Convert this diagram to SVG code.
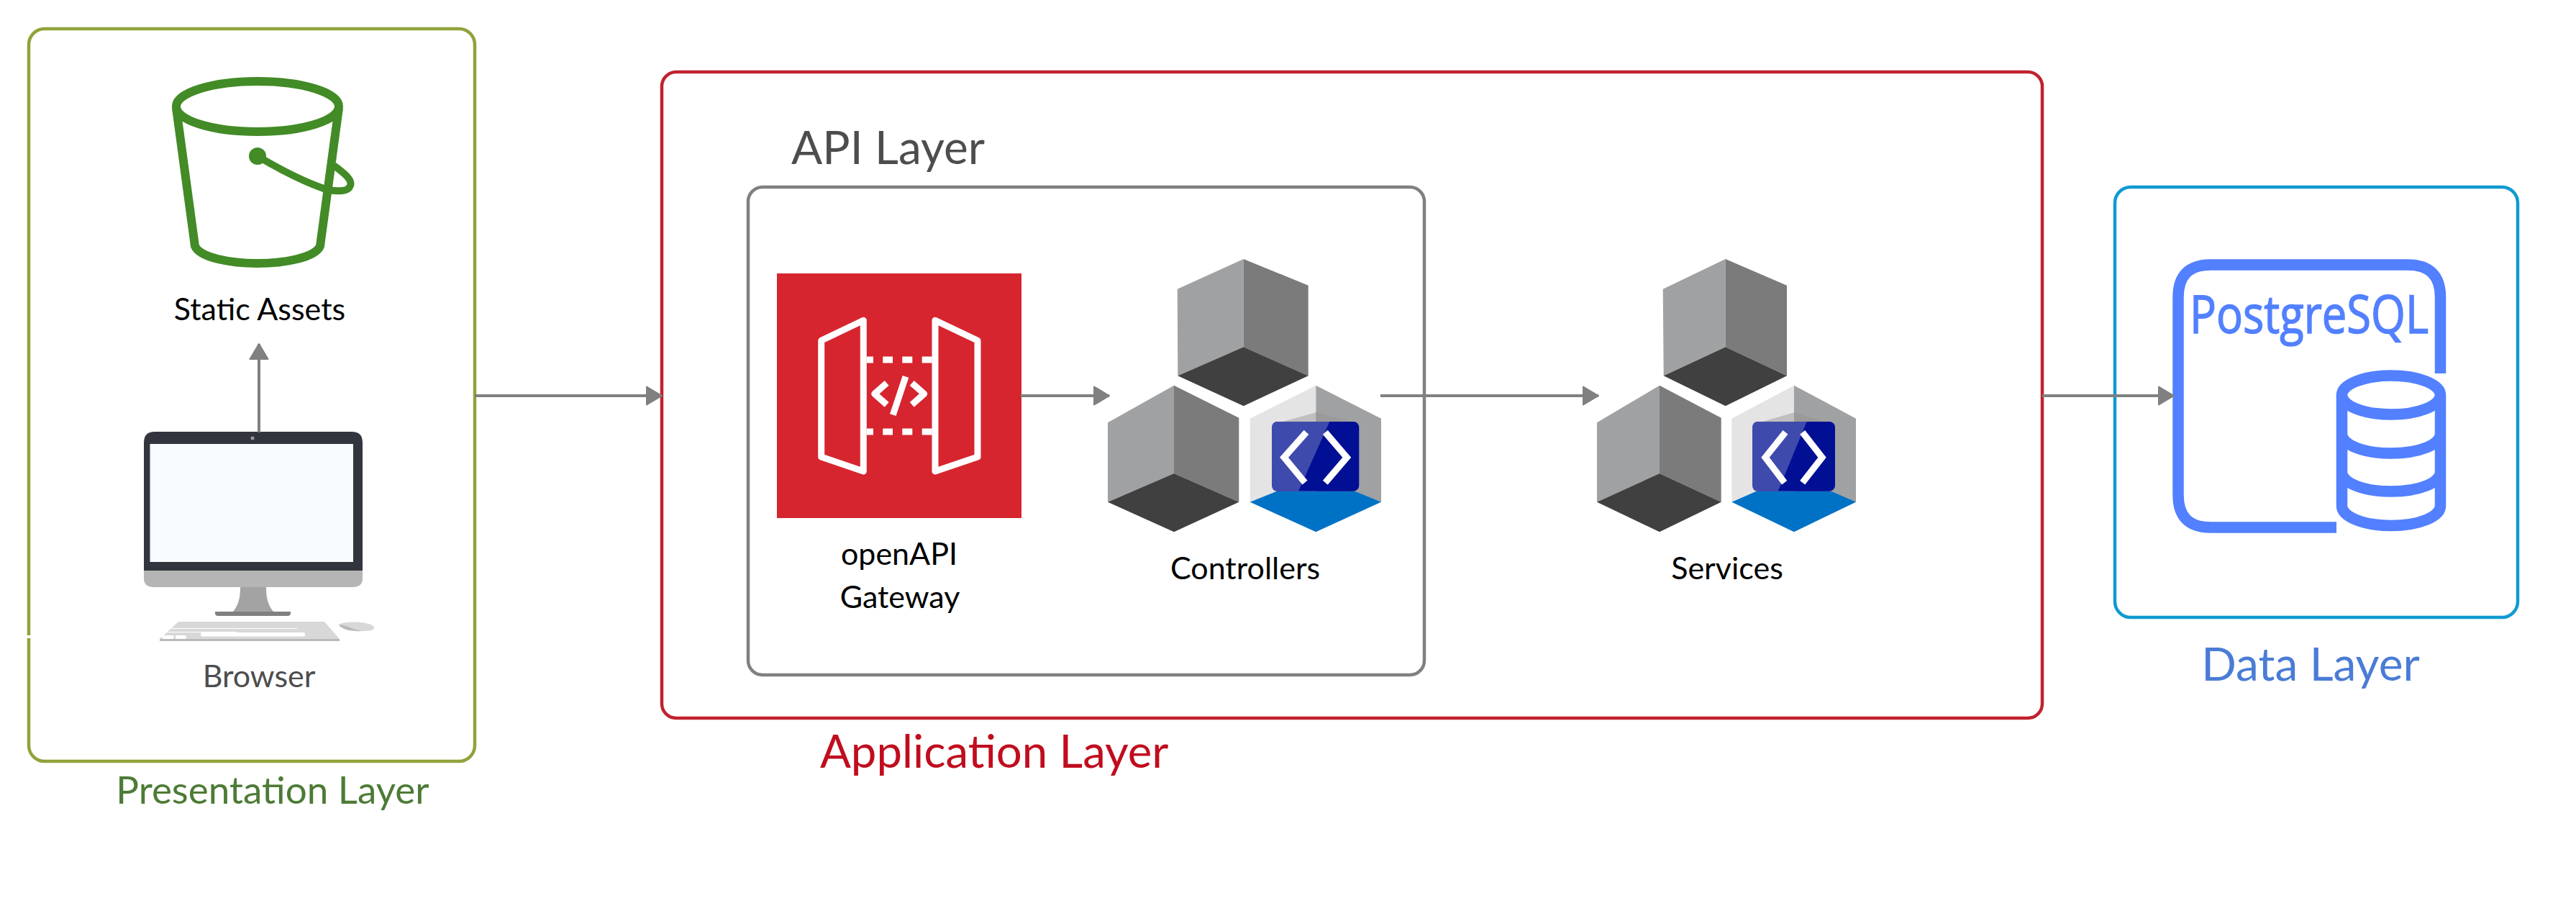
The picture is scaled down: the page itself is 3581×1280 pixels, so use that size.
<svg xmlns="http://www.w3.org/2000/svg" width="3581" height="1280" viewBox="0 0 3581 1280">
<style>
text{font-family:Lato,"Liberation Sans",sans-serif}
.lbl{font-size:43px;text-anchor:middle;fill:#000}
.big{font-size:64px}
.box{fill:none;stroke-width:4.5}
.wl{fill:none;stroke:#fff;stroke-width:9}
.con{stroke:#808080;stroke-width:4;fill:none}
.pg{fill:none;stroke:#5280ff;stroke-width:15.5}
.bk{fill:none;stroke:#428b27}
.cl{fill:#a0a1a3}.cr{fill:#7b7b7b}.cb{fill:#404040}
</style>
<defs>
<marker id="arr" markerUnits="userSpaceOnUse" markerWidth="24" markerHeight="30" refX="22" refY="14" orient="auto"><path d="M1 1.5 L22 14 L1 26.5Z" fill="#808080" stroke="#808080" stroke-width="2" stroke-linejoin="round"/></marker>
</defs>
<rect width="3581" height="1280" fill="#fff"/>
<g id="presentation-layer">
<rect class="box" x="40" y="40" width="620" height="1018" rx="22" stroke="#8fa33a"/>
<rect x="36" y="883" width="8" height="4" fill="#fff"/>
<text x="379" y="1117" text-anchor="middle" font-size="53" fill="#4d7b36">Presentation Layer</text>
</g>
<g id="static-assets">
<ellipse class="bk" stroke-width="12" cx="358" cy="148" rx="113" ry="35"/>
<path class="bk" stroke-width="12" stroke-linejoin="round" d="M245 150 L271 342 C278 358 320 366 358 366 C396 366 438 358 445 342 L471 150"/>
<ellipse cx="358" cy="217" rx="12" ry="12" fill="#428b27"/>
<path class="bk" stroke-width="10" d="M358 217 C390 236 425 254 456 264 C470 266 484 267 487 258 C490 250 478 240 464 230"/>
<text x="361" y="445" class="lbl">Static Assets</text>
</g>
<g id="browser">
<path d="M200 793 V615 Q200 600 215 600 H489 Q504 600 504 615 V793Z" fill="#32353e"/>
<path d="M200 793 H504 V804 Q504 816 490 816 H214 Q200 816 200 804Z" fill="#b5b5b5"/>
<rect x="208.500" y="617" width="282.500" height="164" fill="#f7fcff"/>
<circle cx="351" cy="609" r="2.500" fill="#9a9a9a"/>
<path d="M334 816 H370 C370 830 372 840 380 850 H324 C332 840 334 830 334 816Z" fill="#a3a3a3"/>
<path d="M299 850 H404 V852 Q404 856 400 856 H303 Q299 856 299 852Z" fill="#808080"/>
<path d="M248 864 H451 L472 888 V891 H222 V888Z" fill="#d8d8d8"/>
<rect x="222" y="888" width="250" height="3" fill="#b9b9b9"/>
<path d="M238 873 H413 V874 H235Z M231 878 H329 V879 H230Z" fill="#fff"/>
<rect x="279" y="879" width="145" height="5.500" rx="2" fill="#fff"/>
<rect x="225.500" y="883" width="16" height="5" rx="2" fill="#fff"/>
<rect x="244" y="883" width="15" height="5" rx="2" fill="#fff"/>
<path d="M471 868 C480 862 515 864 520 871 C521 876 515 877 503 877 C490 877 484 871 471 868Z" fill="#d8d8d8"/>
<path d="M471 868 C480 868 490 875 503 877 C490 878 474 875 471 868Z" fill="#b9b9b9"/>
<text x="360" y="955" class="lbl" style="fill:#4d4d4d">Browser</text>
</g>
<g id="application-layer">
<rect class="box" x="920" y="100" width="1919" height="898" rx="20" stroke="#c1222e"/>
<text x="1140" y="1067" font-size="63.500" fill="#c00d1e">Application Layer</text>
</g>
<g id="api-layer">
<rect class="box" x="1040" y="260" width="940" height="678" rx="20" stroke="#808080"/>
<text x="1100" y="228" class="big" fill="#4d4d4d">API Layer</text>
</g>
<g id="openapi-gateway">
<rect x="1080" y="380" width="340" height="340" fill="#d6252e"/>
<path class="wl" stroke-linejoin="round" d="M1141.700 473.300 L1200.300 445.300 V655 L1141.700 635Z M1300 445.300 L1359 473.300 V635 L1300 655Z"/>
<path class="wl" d="M1205 500 H1214 M1227.300 500 H1241 M1254.300 500 H1268.300 M1281.700 500 H1295.700 M1205 600 H1214 M1227.300 600 H1241 M1254.300 600 H1268.300 M1281.700 600 H1295.700"/>
<path class="wl" stroke-linejoin="round" d="M1232.700 532.300 L1215.700 547.300 L1232.700 562.300 M1267.700 532.300 L1284.700 547.300 L1267.700 562.300 M1259 523.300 L1241.300 576.700"/>
<text x="1250" y="785" class="lbl">openAPI</text>
<text x="1251" y="845" class="lbl">Gateway</text>
</g>
<g id="controllers">
<path class="cl" d="M1728.700 360 L1636.700 401.700 L1637.300 522.300 L1728.700 482.300Z"/>
<path class="cr" d="M1728.700 360 L1818.700 396.700 V522.300 L1728.700 482.300Z"/>
<path class="cb" d="M1728.700 482.300 L1818.700 522.300 L1728.700 564.300 L1637.300 522.300Z"/>
<path class="cl" d="M1632 535.700 L1540 587.300 V697.700 L1632 658Z"/>
<path class="cr" d="M1632 535.700 L1722.300 580.700 V697.700 L1632 658Z"/>
<path class="cb" d="M1632 658 L1722.300 697.700 L1632 739.300 L1540 697.700Z"/>
<path d="M1829.300 535.700 L1737.700 581.700 V697.700 H1829.300Z" fill="#e4e4e4"/>
<path class="cl" d="M1829.300 535.700 L1920 581.700 V697.700 H1829.300Z"/>
<path d="M1829.300 573.300 L1783 586 H1829.300Z" fill="#bfbfbf"/>
<path d="M1829.300 573.300 L1876.700 586 H1829.300Z" fill="#9a9a9a"/>
<path d="M1775 682.700 H1883.300 L1920 697.700 L1829.300 739.300 L1737.700 697.700Z" fill="#0072c6"/>
<rect x="1768.300" y="586" width="121" height="96.700" rx="8" fill="#000f94"/>
<path d="M1848.300 586 H1776 Q1768.300 586 1768.300 594 V675 Q1768.300 682.700 1776 682.700 H1805Z" fill="#3f4aad"/>
<path d="M1816 600.700 L1785 635.700 L1814 670.700 M1842.300 600.700 L1872.300 635.700 L1842.300 670.700" fill="none" stroke="#fff" stroke-width="9"/>
<text x="1731" y="805" class="lbl">Controllers</text>
</g>
<g id="services">
<path class="cl" d="M2398.700 360 L2311.700 401.700 L2312.700 522.300 L2398.700 482.300Z"/>
<path class="cr" d="M2398.700 360 L2484 396.700 V522.300 L2398.700 482.300Z"/>
<path class="cb" d="M2398.700 482.300 L2484 522.300 L2398.700 564.300 L2312.700 522.300Z"/>
<path class="cl" d="M2307 535.700 L2220 587.300 V697.700 L2307 658Z"/>
<path class="cr" d="M2307 535.700 L2392.700 580.700 V697.700 L2307 658Z"/>
<path class="cb" d="M2307 658 L2392.700 697.700 L2307 739.300 L2220 697.700Z"/>
<path d="M2494 535.700 L2407.300 581.700 V697.700 H2494Z" fill="#e4e4e4"/>
<path class="cl" d="M2494 535.700 L2580 581.700 V697.700 H2494Z"/>
<path d="M2494 573.300 L2450 586 H2494Z" fill="#bfbfbf"/>
<path d="M2494 573.300 L2535 586 H2494Z" fill="#9a9a9a"/>
<path d="M2441.700 682.700 H2545.700 L2580 697.700 L2494 739.300 L2407.300 697.700Z" fill="#0072c6"/>
<rect x="2436.300" y="586" width="114.700" height="96.700" rx="8" fill="#000f94"/>
<path d="M2511.700 586 H2444 Q2436.300 586 2436.300 594 V675 Q2436.300 682.700 2444 682.700 H2471.700Z" fill="#3f4aad"/>
<path d="M2482 600.700 L2454 635.700 L2480.700 670.700 M2505.700 600.700 L2533 635.700 L2505.700 670.700" fill="none" stroke="#fff" stroke-width="9"/>
<text x="2401" y="805" class="lbl">Services</text>
</g>
<g id="data-layer">
<rect class="box" x="2940" y="260" width="560" height="598" rx="22" stroke="#0f9ad1"/>
<text x="3212" y="946" class="big" text-anchor="middle" fill="#4a7cd6">Data Layer</text>
</g>
<g id="postgresql">
<path class="pg" d="M3392.500 519 V413 Q3392.500 368 3347 368 H3073 Q3028 368 3028 413 V688 Q3028 733 3073 733 H3248"/>
<text x="3044" y="462.500" font-size="74" textLength="332" lengthAdjust="spacingAndGlyphs" fill="#5280ff" stroke="#5280ff" stroke-width="1.500" style="font-family:'Open Sans','Noto Sans',sans-serif">PostgreSQL</text>
<ellipse class="pg" cx="3324" cy="549" rx="68.500" ry="27"/>
<path class="pg" d="M3255.500 549 V703 C3255.500 718 3285 730.500 3324 730.500 C3363 730.500 3392.500 718 3392.500 703 V549 M3255.500 603 C3255.500 618 3285 630 3324 630 C3363 630 3392.500 618 3392.500 603 M3255.500 656 C3255.500 671 3285 683 3324 683 C3363 683 3392.500 671 3392.500 656"/>
</g>
<g id="connectors">
<line class="con" x1="360" y1="601" x2="360" y2="478" marker-end="url(#arr)"/>
<line class="con" x1="660" y1="550" x2="920" y2="550" marker-end="url(#arr)"/>
<line class="con" x1="1419" y1="550" x2="1542" y2="550" marker-end="url(#arr)"/>
<line class="con" x1="1919" y1="550" x2="2222" y2="550" marker-end="url(#arr)"/>
<line class="con" x1="2839" y1="550" x2="3022" y2="550" marker-end="url(#arr)"/>
</g>
</svg>
